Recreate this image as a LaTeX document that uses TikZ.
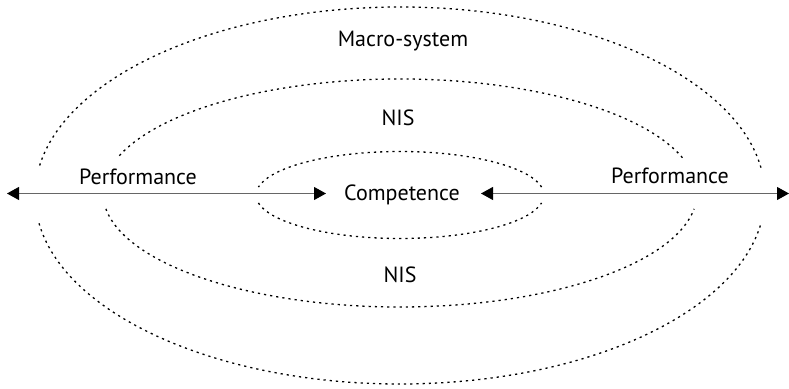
\documentclass[tikz,border=0pt]{standalone}
\usepackage{fontspec}
\setmainfont{PT Sans}
\usetikzlibrary{arrows.meta}
\begin{document}
\begin{tikzpicture}[x=1pt,y=1pt,
  ring/.style={line width=1.3pt, dash pattern=on 2.2pt off 4pt},
  lbl/.style={anchor=base, inner sep=0pt, font=\fontsize{22}{25}\selectfont},
  dbl/.style={draw=black!60, line width=1pt,
    {Triangle[length=12pt,width=13pt,color=black]}-{Triangle[length=12pt,width=13pt,color=black]}}]
\useasboundingbox (0,0) rectangle (789,388);
% outer ring
\draw[ring] (400,192.5) ++(8.5:365 and 188.5) arc[start angle=8.5, end angle=171.5, x radius=365, y radius=188.5];
\draw[ring] (400,192.5) ++(188.5:365 and 188.5) arc[start angle=188.5, end angle=351.5, x radius=365, y radius=188.5];
% middle ring
\draw[ring] (400,195) ++(18:297 and 114) arc[start angle=18, end angle=162, x radius=297, y radius=114];
\draw[ring] (400,195) ++(188:297 and 114) arc[start angle=188, end angle=352, x radius=297, y radius=114];
% inner ring
\draw[ring] (400,193) ++(10.5:144 and 43.5) arc[start angle=10.5, end angle=169.5, x radius=144, y radius=43.5];
\draw[ring] (400,193) ++(190.5:144 and 43.5) arc[start angle=190.5, end angle=349.5, x radius=144, y radius=43.5];
% labels
\node[lbl] (macro) at (403,341) {Macro-system};
\node[lbl] (nisT) at (398,262) {NIS};
\node[lbl] (nisB) at (400,105) {NIS};
\node[lbl] (perfL) at (138,203) {Performance};
\node[lbl] (perfR) at (670,204) {Performance};
\node[lbl] (comp) at (402,187) {Competence};
% arrows
\coordinate (aL) at (7,194.5);
\coordinate (aLi) at (326,194.5);
\coordinate (aRi) at (481,194.5);
\coordinate (aR) at (789,194.5);
\draw[dbl] (aL) -- (aLi);
\draw[dbl] (aRi) -- (aR);
\end{tikzpicture}
\end{document}
